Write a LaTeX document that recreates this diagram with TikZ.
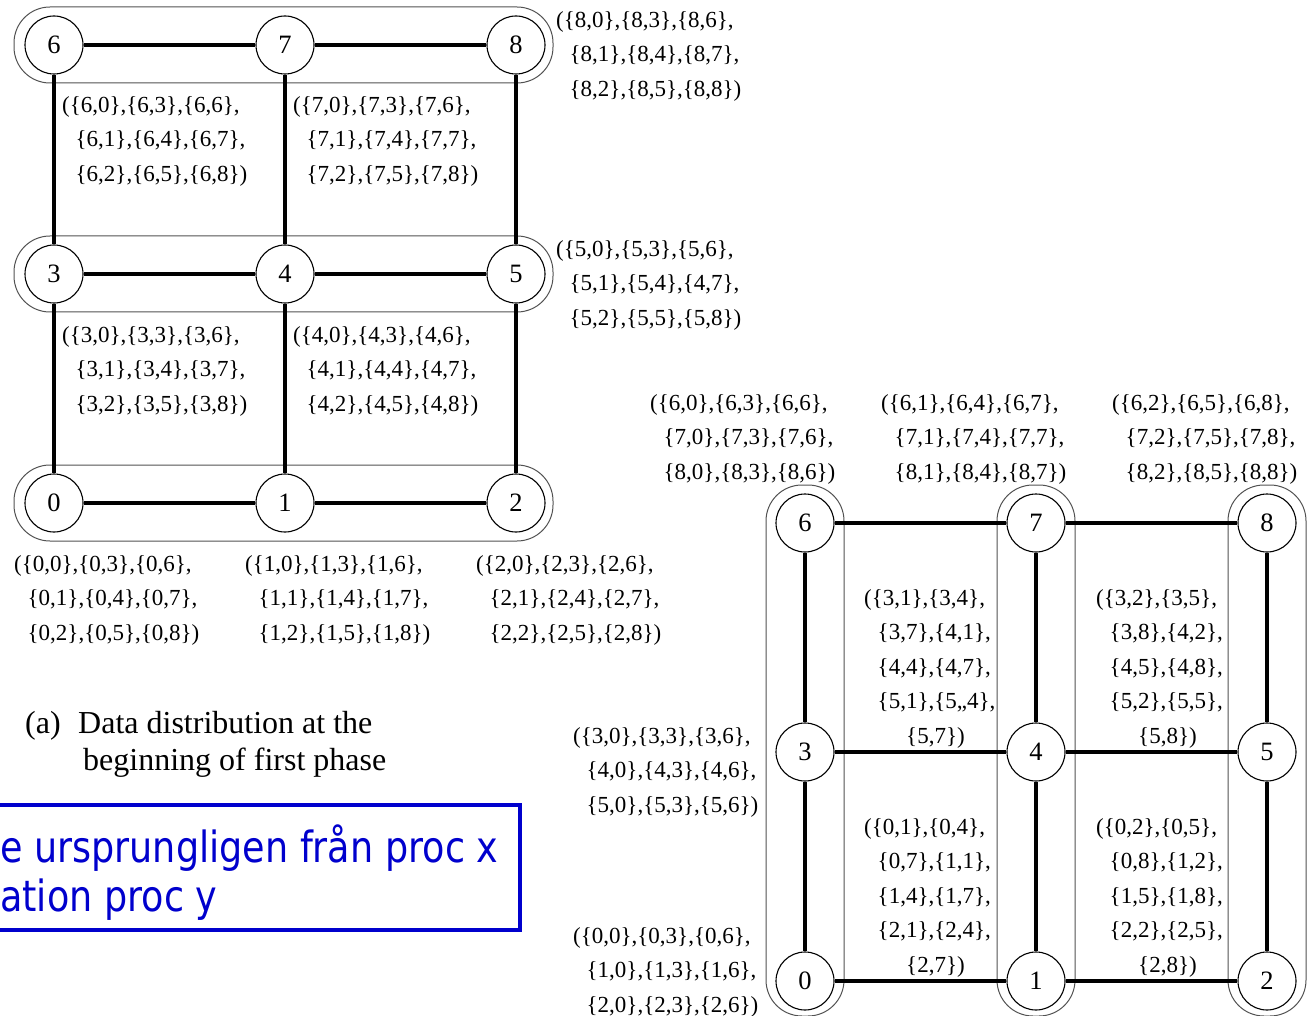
\documentclass[tikz,border=0pt]{standalone}
\usepackage{fontspec}
\setmainfont{Liberation Serif}
\newfontfamily\notefont[FakeStretch=0.85]{DejaVu Sans}
\definecolor{noteblue}{RGB}{0,0,205}
\tikzset{
  proc/.style={circle, draw, line width=1.1pt, fill=white, minimum size=58pt,
    inner sep=0pt, font=\fontsize{26.5}{30}\selectfont},
  link/.style={line width=3.8pt},
  grp/.style={draw=black!68, line width=1pt, rounded corners=36pt},
  lbl/.style={anchor=north west, inner sep=0pt, align=left, yshift=-2.5pt,
    font=\fontsize{23}{34.5}\selectfont},
  captext/.style={anchor=base west, inner sep=0pt, font=\fontsize{32}{38}\selectfont},
  notetext/.style={anchor=base west, inner sep=0pt, text=noteblue,
    font=\notefont\fontsize{43}{50}\selectfont},
}
\newcommand\lind{\hspace*{13.5pt}}

\begin{document}
\begin{tikzpicture}[x=1pt,y=-1pt]
\useasboundingbox (0,0) rectangle (1309,1016);
\clip (0,0) rectangle (1309,1016);

% ---------- (a) row-wise distribution ----------
\draw[grp] (14,7) rectangle (553,83);
\draw[grp] (14,236) rectangle (553,312);
\draw[grp] (14,465) rectangle (553,541);

\node[proc] (a6) at (54,45) {6};
\node[proc] (a7) at (285,45) {7};
\node[proc] (a8) at (516,45) {8};
\node[proc] (a3) at (54,274) {3};
\node[proc] (a4) at (285,274) {4};
\node[proc] (a5) at (516,274) {5};
\node[proc] (a0) at (54,503) {0};
\node[proc] (a1) at (285,503) {1};
\node[proc] (a2) at (516,503) {2};

\foreach \u/\v in {a6/a7,a7/a8,a3/a4,a4/a5,a0/a1,a1/a2,
                   a6/a3,a3/a0,a7/a4,a4/a1,a8/a5,a5/a2}
  \draw[link] (\u) -- (\v);

\node[lbl] (la8) at (556,8.5) {(\{8,0\},\{8,3\},\{8,6\},\\\lind\{8,1\},\{8,4\},\{8,7\},\\\lind\{8,2\},\{8,5\},\{8,8\})};
\node[lbl] (la6) at (62,93.5) {(\{6,0\},\{6,3\},\{6,6\},\\\lind\{6,1\},\{6,4\},\{6,7\},\\\lind\{6,2\},\{6,5\},\{6,8\})};
\node[lbl] (la7) at (293,93.5) {(\{7,0\},\{7,3\},\{7,6\},\\\lind\{7,1\},\{7,4\},\{7,7\},\\\lind\{7,2\},\{7,5\},\{7,8\})};
\node[lbl] (la5) at (556,237.5) {(\{5,0\},\{5,3\},\{5,6\},\\\lind\{5,1\},\{5,4\},\{4,7\},\\\lind\{5,2\},\{5,5\},\{5,8\})};
\node[lbl] (la3) at (62,323.5) {(\{3,0\},\{3,3\},\{3,6\},\\\lind\{3,1\},\{3,4\},\{3,7\},\\\lind\{3,2\},\{3,5\},\{3,8\})};
\node[lbl] (la4) at (293,323.5) {(\{4,0\},\{4,3\},\{4,6\},\\\lind\{4,1\},\{4,4\},\{4,7\},\\\lind\{4,2\},\{4,5\},\{4,8\})};
\node[lbl] (la0) at (14,552.5) {(\{0,0\},\{0,3\},\{0,6\},\\\lind\{0,1\},\{0,4\},\{0,7\},\\\lind\{0,2\},\{0,5\},\{0,8\})};
\node[lbl] (la1) at (245,552.5) {(\{1,0\},\{1,3\},\{1,6\},\\\lind\{1,1\},\{1,4\},\{1,7\},\\\lind\{1,2\},\{1,5\},\{1,8\})};
\node[lbl] (la2) at (476,552.5) {(\{2,0\},\{2,3\},\{2,6\},\\\lind\{2,1\},\{2,4\},\{2,7\},\\\lind\{2,2\},\{2,5\},\{2,8\})};

\node[captext] (capa) at (25,733) {(a)};
\node[captext] (cap1) at (78,733) {Data distribution at the};
\node[captext] (cap2) at (83,770) {beginning of first phase};

% ---------- note box ----------
\draw[noteblue, line width=4.5pt] (-10,805) rectangle (520,930);
\node[notetext] (note1) at (0,862) {e ursprungligen från proc x};
\node[notetext] (note2) at (0,911) {ation proc y};

% ---------- (b) column-wise distribution ----------
\draw[grp] (766,485) rectangle (844,1016);
\draw[grp] (997,485) rectangle (1075,1016);
\draw[grp] (1228,485) rectangle (1306,1016);

\node[proc] (b6) at (805,523) {6};
\node[proc] (b7) at (1036,523) {7};
\node[proc] (b8) at (1267,523) {8};
\node[proc] (b3) at (805,752) {3};
\node[proc] (b4) at (1036,752) {4};
\node[proc] (b5) at (1267,752) {5};
\node[proc] (b0) at (805,981) {0};
\node[proc] (b1) at (1036,981) {1};
\node[proc] (b2) at (1267,981) {2};

\foreach \u/\v in {b6/b7,b7/b8,b3/b4,b4/b5,b0/b1,b1/b2,
                   b6/b3,b3/b0,b7/b4,b4/b1,b8/b5,b5/b2}
  \draw[link] (\u) -- (\v);

\node[lbl] (lb6) at (650,391.5) {(\{6,0\},\{6,3\},\{6,6\},\\\lind\{7,0\},\{7,3\},\{7,6\},\\\lind\{8,0\},\{8,3\},\{8,6\})};
\node[lbl] (lb7) at (881,391.5) {(\{6,1\},\{6,4\},\{6,7\},\\\lind\{7,1\},\{7,4\},\{7,7\},\\\lind\{8,1\},\{8,4\},\{8,7\})};
\node[lbl] (lb8) at (1112,391.5) {(\{6,2\},\{6,5\},\{6,8\},\\\lind\{7,2\},\{7,5\},\{7,8\},\\\lind\{8,2\},\{8,5\},\{8,8\})};
\node[lbl] (lb3) at (573,724.5) {(\{3,0\},\{3,3\},\{3,6\},\\\lind\{4,0\},\{4,3\},\{4,6\},\\\lind\{5,0\},\{5,3\},\{5,6\})};
\node[lbl] (lb0) at (573,924.5) {(\{0,0\},\{0,3\},\{0,6\},\\\lind\{1,0\},\{1,3\},\{1,6\},\\\lind\{2,0\},\{2,3\},\{2,6\})};

\node[lbl] (lm1) at (864,586.5) {(\{3,1\},\{3,4\},\\\lind\{3,7\},\{4,1\},\\\lind\{4,4\},\{4,7\},\\\lind\{5,1\},\{5,,4\},\\\hspace*{42pt}\{5,7\})};
\node[lbl] (lm2) at (1096,586.5) {(\{3,2\},\{3,5\},\\\lind\{3,8\},\{4,2\},\\\lind\{4,5\},\{4,8\},\\\lind\{5,2\},\{5,5\},\\\hspace*{42pt}\{5,8\})};
\node[lbl] (lm3) at (864,815.5) {(\{0,1\},\{0,4\},\\\lind\{0,7\},\{1,1\},\\\lind\{1,4\},\{1,7\},\\\lind\{2,1\},\{2,4\},\\\hspace*{42pt}\{2,7\})};
\node[lbl] (lm4) at (1096,815.5) {(\{0,2\},\{0,5\},\\\lind\{0,8\},\{1,2\},\\\lind\{1,5\},\{1,8\},\\\lind\{2,2\},\{2,5\},\\\hspace*{42pt}\{2,8\})};
\end{tikzpicture}
\end{document}
